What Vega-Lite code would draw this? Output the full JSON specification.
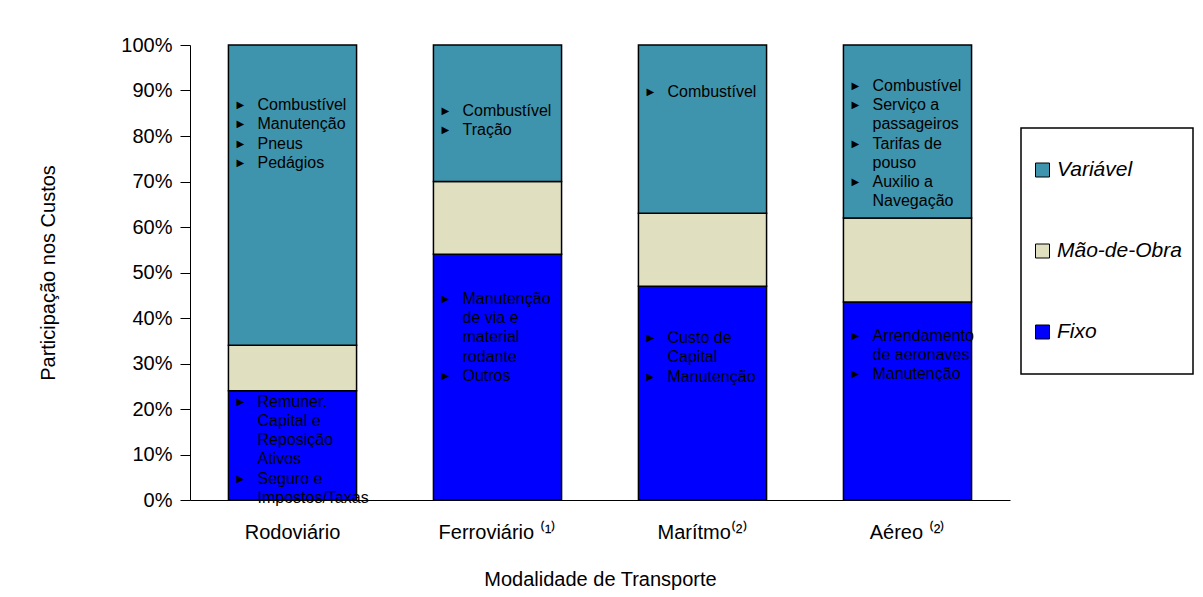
{
  "$schema": "https://vega.github.io/schema/vega-lite/v6.json",
  "width": 820,
  "height": 455,
  "autosize": {"type": "none"},
  "padding": {"left": 190, "top": 45, "right": 193, "bottom": 97},
  "background": "white",
  "config": {"view": {"stroke": null}, "font": "Liberation Sans"},
  "datasets": {
    "costs": [
      {"modal": "Rodoviário", "tipo": "Fixo", "valor": 24},
      {"modal": "Rodoviário", "tipo": "Mão-de-Obra", "valor": 10},
      {"modal": "Rodoviário", "tipo": "Variável", "valor": 66},
      {"modal": "Ferroviário ⁽¹⁾", "tipo": "Fixo", "valor": 54},
      {"modal": "Ferroviário ⁽¹⁾", "tipo": "Mão-de-Obra", "valor": 16},
      {"modal": "Ferroviário ⁽¹⁾", "tipo": "Variável", "valor": 30},
      {"modal": "Marítmo⁽²⁾", "tipo": "Fixo", "valor": 47},
      {"modal": "Marítmo⁽²⁾", "tipo": "Mão-de-Obra", "valor": 16},
      {"modal": "Marítmo⁽²⁾", "tipo": "Variável", "valor": 37},
      {"modal": "Aéreo ⁽²⁾", "tipo": "Fixo", "valor": 43.5},
      {"modal": "Aéreo ⁽²⁾", "tipo": "Mão-de-Obra", "valor": 18.5},
      {"modal": "Aéreo ⁽²⁾", "tipo": "Variável", "valor": 38}
    ],
    "notes": [
      {"modal": "Rodoviário", "pos": 87.0, "texto": "Combustível\nManutenção\nPneus\nPedágios"},
      {"modal": "Rodoviário", "pos": 21.8, "texto": "Remuner.\nCapital e\nReposição\nAtivos\nSeguro e\nImpostos/Taxas"},
      {"modal": "Ferroviário ⁽¹⁾", "pos": 85.7, "texto": "Combustível\nTração"},
      {"modal": "Ferroviário ⁽¹⁾", "pos": 44.4, "texto": "Manutenção\nde via e\nmaterial\nrodante\nOutros"},
      {"modal": "Marítmo⁽²⁾", "pos": 90.0, "texto": "Combustível"},
      {"modal": "Marítmo⁽²⁾", "pos": 35.8, "texto": "Custo de\nCapital\nManutenção"},
      {"modal": "Aéreo ⁽²⁾", "pos": 91.2, "texto": "Combustível\nServiço a\npassageiros\nTarifas de\npouso\nAuxilio a\nNavegação"},
      {"modal": "Aéreo ⁽²⁾", "pos": 36.3, "texto": "Arrendamento\nde aeronaves\nManutenção"}
    ],
    "bullets": [
      {"modal": "Rodoviário", "pos": 87.0},
      {"modal": "Rodoviário", "pos": 82.78},
      {"modal": "Rodoviário", "pos": 78.56},
      {"modal": "Rodoviário", "pos": 74.34},
      {"modal": "Rodoviário", "pos": 21.8},
      {"modal": "Rodoviário", "pos": 4.92},
      {"modal": "Ferroviário ⁽¹⁾", "pos": 85.7},
      {"modal": "Ferroviário ⁽¹⁾", "pos": 81.48},
      {"modal": "Ferroviário ⁽¹⁾", "pos": 44.4},
      {"modal": "Ferroviário ⁽¹⁾", "pos": 27.52},
      {"modal": "Marítmo⁽²⁾", "pos": 90.0},
      {"modal": "Marítmo⁽²⁾", "pos": 35.8},
      {"modal": "Marítmo⁽²⁾", "pos": 27.36},
      {"modal": "Aéreo ⁽²⁾", "pos": 91.2},
      {"modal": "Aéreo ⁽²⁾", "pos": 86.98},
      {"modal": "Aéreo ⁽²⁾", "pos": 78.54},
      {"modal": "Aéreo ⁽²⁾", "pos": 70.1},
      {"modal": "Aéreo ⁽²⁾", "pos": 36.3},
      {"modal": "Aéreo ⁽²⁾", "pos": 27.86}
    ]
  },
  "layer": [
    {
      "data": {"name": "costs"},
      "mark": {"type": "bar", "stroke": "black", "strokeWidth": 1.5},
      "encoding": {
        "x": {
          "field": "modal",
          "type": "nominal",
          "sort": ["Rodoviário", "Ferroviário ⁽¹⁾", "Marítmo⁽²⁾", "Aéreo ⁽²⁾"],
          "scale": {"paddingInner": 0.375, "paddingOuter": 0.1875},
          "axis": {
            "ticks": false,
            "labelAngle": 0,
            "labelFontSize": 20,
            "labelColor": "black",
            "labelPadding": 22,
            "domainColor": "black",
            "domainWidth": 1,
            "title": "Modalidade de Transporte",
            "titleFontSize": 20,
            "titleFontWeight": "normal",
            "titleColor": "black",
            "titleY": 79,
            "titleBaseline": "middle"
          }
        },
        "y": {
          "field": "valor",
          "type": "quantitative",
          "stack": "zero",
          "scale": {"domain": [0, 100]},
          "axis": {
            "values": [0, 10, 20, 30, 40, 50, 60, 70, 80, 90, 100],
            "labelExpr": "datum.value + '%'",
            "labelFontSize": 20,
            "labelColor": "black",
            "labelPadding": 8,
            "tickSize": 10,
            "tickColor": "black",
            "domainColor": "black",
            "grid": false,
            "title": "Participação nos Custos",
            "titleFontSize": 20,
            "titleFontWeight": "normal",
            "titleColor": "black",
            "titleX": -142,
            "titleBaseline": "middle"
          }
        },
        "color": {
          "field": "tipo",
          "type": "nominal",
          "scale": {
            "domain": ["Variável", "Mão-de-Obra", "Fixo"],
            "range": ["#3f94ad", "#e0dfc0", "#0000ff"]
          },
          "legend": {
            "orient": "none",
            "legendX": 831,
            "legendY": 83,
            "title": null,
            "padding": 11,
            "clipHeight": 62,
            "strokeColor": "black",
            "fillColor": "white",
            "symbolType": "square",
            "symbolSize": 196,
            "symbolStrokeColor": "black",
            "symbolStrokeWidth": 1,
            "symbolOpacity": 1,
            "labelFontSize": 21,
            "labelFontStyle": "italic",
            "labelColor": "black",
            "labelOffset": 4,
            "labelLimit": 300,
            "rowPadding": 19,
            "encode": {"legend": {"update": {"strokeWidth": {"value": 1.5}}}}
          }
        },
        "order": {"field": "tipo", "sort": "ascending"}
      }
    },
    {
      "data": {"name": "notes"},
      "mark": {"type": "text", "align": "left", "baseline": "alphabetic", "dx": -35, "dy": 6, "fontSize": 16, "lineHeight": 19.2, "lineBreak": "\n", "color": "black"},
      "encoding": {
        "x": {"field": "modal", "type": "nominal", "sort": ["Rodoviário", "Ferroviário ⁽¹⁾", "Marítmo⁽²⁾", "Aéreo ⁽²⁾"]},
        "y": {"field": "pos", "type": "quantitative"},
        "text": {"field": "texto"}
      }
    },
    {
      "data": {"name": "bullets"},
      "mark": {"type": "text", "align": "left", "baseline": "middle", "dx": -56, "dy": 1, "fontSize": 10, "color": "black", "font": "DejaVu Sans", "text": "▶"},
      "encoding": {
        "x": {"field": "modal", "type": "nominal", "sort": ["Rodoviário", "Ferroviário ⁽¹⁾", "Marítmo⁽²⁾", "Aéreo ⁽²⁾"]},
        "y": {"field": "pos", "type": "quantitative"}
      }
    }
  ]
}
